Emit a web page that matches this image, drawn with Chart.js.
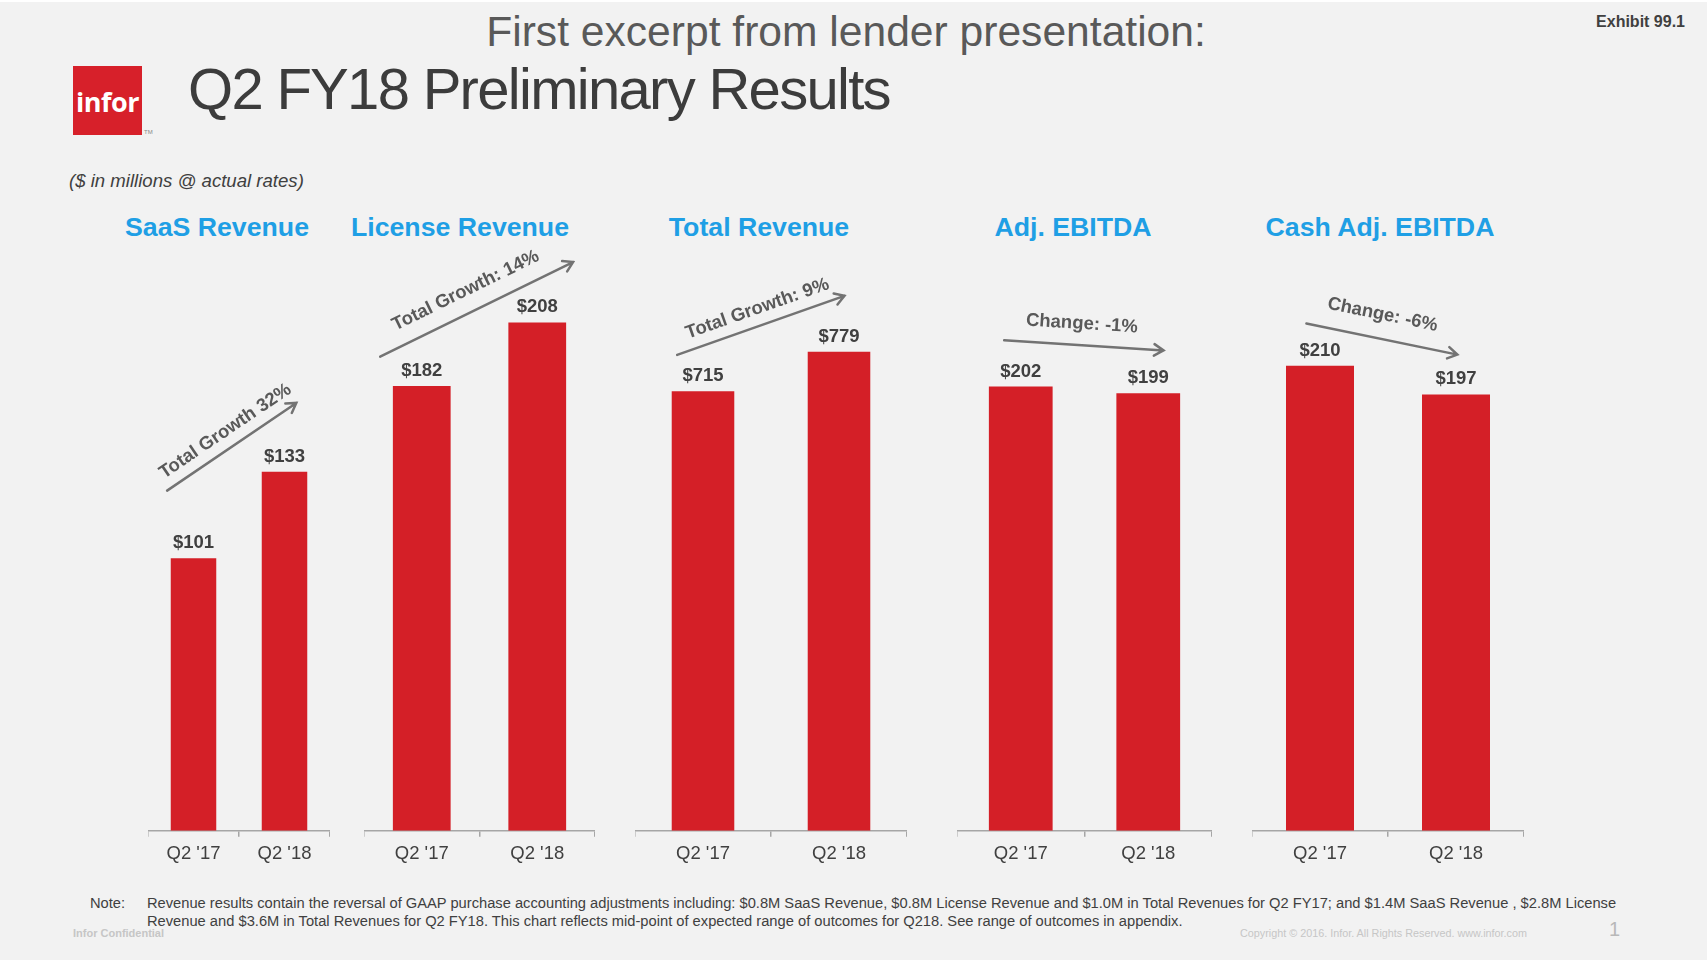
<!DOCTYPE html>
<html>
<head>
<meta charset="utf-8">
<title>Q2 FY18 Preliminary Results</title>
<script src="https://cdn.jsdelivr.net/npm/chart.js@4.4.1/dist/chart.umd.min.js"></script>
<style>
    body { margin: 0; background: #f2f2f2; font-family: 'Liberation Sans', Arial, sans-serif; }
    #slide { position: relative; width: 1707px; height: 960px; overflow: hidden; background: #f2f2f2; }
    #slide div, #slide canvas { position: absolute; }
    .topline { left: 0; top: 0; width: 1707px; height: 2px; background: #fff; }
    .excerpt { left: 846px; top: 10px; transform: translateX(-50%); font-size: 42.6px; line-height: 42px; color: #595959; white-space: nowrap; }
    .exhibit { right: 22px; top: 14px; font-size: 16px; line-height: 16px; font-weight: bold; color: #404040; }
    .logo { left: 73px; top: 66px; width: 69px; height: 69px; background: #d7202a; color: #fff; font-weight: bold; font-size: 27px; line-height: 71px; text-align: center; font-family: 'Open Sans', 'Liberation Sans', sans-serif; letter-spacing: -0.5px; }
    .tm { left: 144px; top: 129px; font-size: 6px; color: #888; }
    .headline { left: 188px; top: 60px; font-size: 58px; line-height: 58px; color: #3c3c3c; letter-spacing: -1.7px; white-space: nowrap; }
    .units { left: 69px; top: 172px; font-size: 18.6px; line-height: 18px; font-style: italic; color: #404040; }
    .ptitle { top: 214px; transform: translateX(-50%); font-size: 26.7px; line-height: 26px; font-weight: bold; color: #1f9fe5; white-space: nowrap; }
    .note-lbl { left: 90px; top: 895px; font-size: 14.7px; line-height: 17.5px; color: #404040; }
    .note { left: 147px; top: 895px; font-size: 14.7px; line-height: 17.5px; color: #404040; white-space: nowrap; }
    .conf { left: 73px; top: 927px; font-size: 11px; font-weight: bold; color: #c6c6c6; }
    .copy { left: 1240px; top: 927px; font-size: 10.8px; color: #c6c6c6; white-space: nowrap; }
    .pageno { left: 1609px; top: 918px; font-size: 20px; color: #b8b8b8; }
</style>
</head>
<body>
<div id="slide">
    <div class="topline"></div>
    <div class="excerpt">First excerpt from lender presentation:</div>
    <div class="exhibit">Exhibit 99.1</div>
    <div class="logo">infor</div>
    <div class="tm">TM</div>
    <div class="headline">Q2 FY18 Preliminary Results</div>
    <div class="units">($ in millions @ actual rates)</div>
    <div class="note-lbl">Note:</div>
    <div class="note">Revenue results contain the reversal of GAAP purchase accounting adjustments including: $0.8M SaaS Revenue, $0.8M License Revenue and $1.0M in Total Revenues for Q2 FY17; and $1.4M SaaS Revenue , $2.8M License<br>Revenue and $3.6M in Total Revenues for Q2 FY18. This chart reflects mid-point of expected range of outcomes for Q218. See range of outcomes in appendix.</div>
    <div class="conf">Infor Confidential</div>
    <div class="copy">Copyright © 2016. Infor. All Rights Reserved. www.infor.com</div>
    <div class="pageno">1</div>
</div>
<script>
// values, $ in millions
var categories = ["Q2 '17", "Q2 '18"];
var saasRevenue = [101, 133];
var licenseRevenue = [182, 208];
var totalRevenue = [715, 779];
var adjEbitda = [202, 199];
var cashAdjEbitda = [210, 197];

var panelTitles = ['SaaS Revenue', 'License Revenue', 'Total Revenue', 'Adj. EBITDA', 'Cash Adj. EBITDA'];
var changeLabels = ['Total Growth 32%', 'Total Growth: 14%', 'Total Growth: 9%', 'Change: -1%', 'Change: -6%'];

var FONT = "'Liberation Sans', Arial, sans-serif";
var RED = '#d41f27';
var CANVAS_TOP = 235;
var CANVAS_H = 636;

// layout of each small chart; arrow / label are in data units (category index, value)
var panels = [
    {data: saasRevenue,    left: 148,  width: 182, max: 220.7, catPct: 0.5,  titleX: 217,  arrow: [-0.29, 126, 1.13, 158.5], labelAt: [0.35, 148]},
    {data: licenseRevenue, left: 364,  width: 231, max: 243.8, catPct: 0.5,  titleX: 460,  arrow: [-0.36, 194, 1.31, 232.7], labelAt: [0.38, 221]},
    {data: totalRevenue,   left: 635,  width: 272, max: 969,   catPct: 0.46, titleX: 759,  arrow: [-0.19, 774, 1.04, 870],   labelAt: [0.40, 849]},
    {data: adjEbitda,      left: 957,  width: 255, max: 270.9, catPct: 0.5,  titleX: 1073, arrow: [-0.13, 223, 1.12, 218.4], labelAt: [0.48, 230.5]},
    {data: cashAdjEbitda,  left: 1252, width: 272, max: 269,   catPct: 0.5,  titleX: 1380, arrow: [-0.10, 229, 1.01, 215],   labelAt: [0.46, 233]}
];

// value labels, trend arrow and its caption
var annotate = {
    id: 'annotate',
    afterDatasetsDraw: function (chart) {
        var opts = chart.options.plugins.annotate;
        var ctx = chart.ctx;
        var xs = chart.scales.x, ys = chart.scales.y;
        var values = chart.data.datasets[0].data;

        ctx.save();
        ctx.fillStyle = '#404040';
        ctx.font = 'bold 18.5px ' + FONT;
        ctx.textAlign = 'center';
        ctx.textBaseline = 'alphabetic';
        chart.getDatasetMeta(0).data.forEach(function (bar, i) {
            ctx.fillText('$' + values[i], bar.x, bar.y - 10);
        });

        var x0 = xs.getPixelForValue(opts.arrow[0]), y0 = ys.getPixelForValue(opts.arrow[1]);
        var x1 = xs.getPixelForValue(opts.arrow[2]), y1 = ys.getPixelForValue(opts.arrow[3]);
        var ang = Math.atan2(y1 - y0, x1 - x0);
        ctx.strokeStyle = '#737373';
        ctx.lineWidth = 2.5;
        ctx.lineCap = 'round';
        ctx.beginPath();
        ctx.moveTo(x0, y0);
        ctx.lineTo(x1, y1);
        ctx.moveTo(x1 - 11 * Math.cos(ang - 0.55), y1 - 11 * Math.sin(ang - 0.55));
        ctx.lineTo(x1, y1);
        ctx.lineTo(x1 - 11 * Math.cos(ang + 0.55), y1 - 11 * Math.sin(ang + 0.55));
        ctx.stroke();

        ctx.translate(xs.getPixelForValue(opts.labelAt[0]), ys.getPixelForValue(opts.labelAt[1]));
        ctx.rotate(ang);
        ctx.fillStyle = '#595959';
        ctx.textBaseline = 'middle';
        ctx.fillText(opts.text, 0, 0);
        ctx.restore();
    }
};

var slide = document.getElementById('slide');

panels.forEach(function (p, k) {
    var title = document.createElement('div');
    title.className = 'ptitle';
    title.style.left = p.titleX + 'px';
    title.textContent = panelTitles[k];
    slide.appendChild(title);

    var canvas = document.createElement('canvas');
    canvas.width = p.width;
    canvas.height = CANVAS_H;
    canvas.style.left = p.left + 'px';
    canvas.style.top = CANVAS_TOP + 'px';
    slide.appendChild(canvas);

    new Chart(canvas.getContext('2d'), {
        type: 'bar',
        data: {
            labels: categories,
            datasets: [{
                data: p.data,
                backgroundColor: RED,
                borderWidth: 0,
                barPercentage: 1,
                categoryPercentage: p.catPct
            }]
        },
        options: {
            responsive: false,
            animation: false,
            layout: {padding: 0},
            plugins: {
                legend: {display: false},
                tooltip: {enabled: false},
                annotate: {arrow: p.arrow, labelAt: p.labelAt, text: changeLabels[k]}
            },
            scales: {
                x: {
                    grid: {display: true, drawOnChartArea: false, drawTicks: true, tickLength: 6, color: '#a6a6a6', lineWidth: 1.5, offset: true},
                    border: {display: true, color: '#a6a6a6', width: 1.5},
                    ticks: {color: '#404040', font: {size: 18.5, family: FONT}, padding: 6}
                },
                y: {display: false, min: 0, max: p.max}
            }
        },
        plugins: [annotate]
    });
});
</script>
</body>
</html>
